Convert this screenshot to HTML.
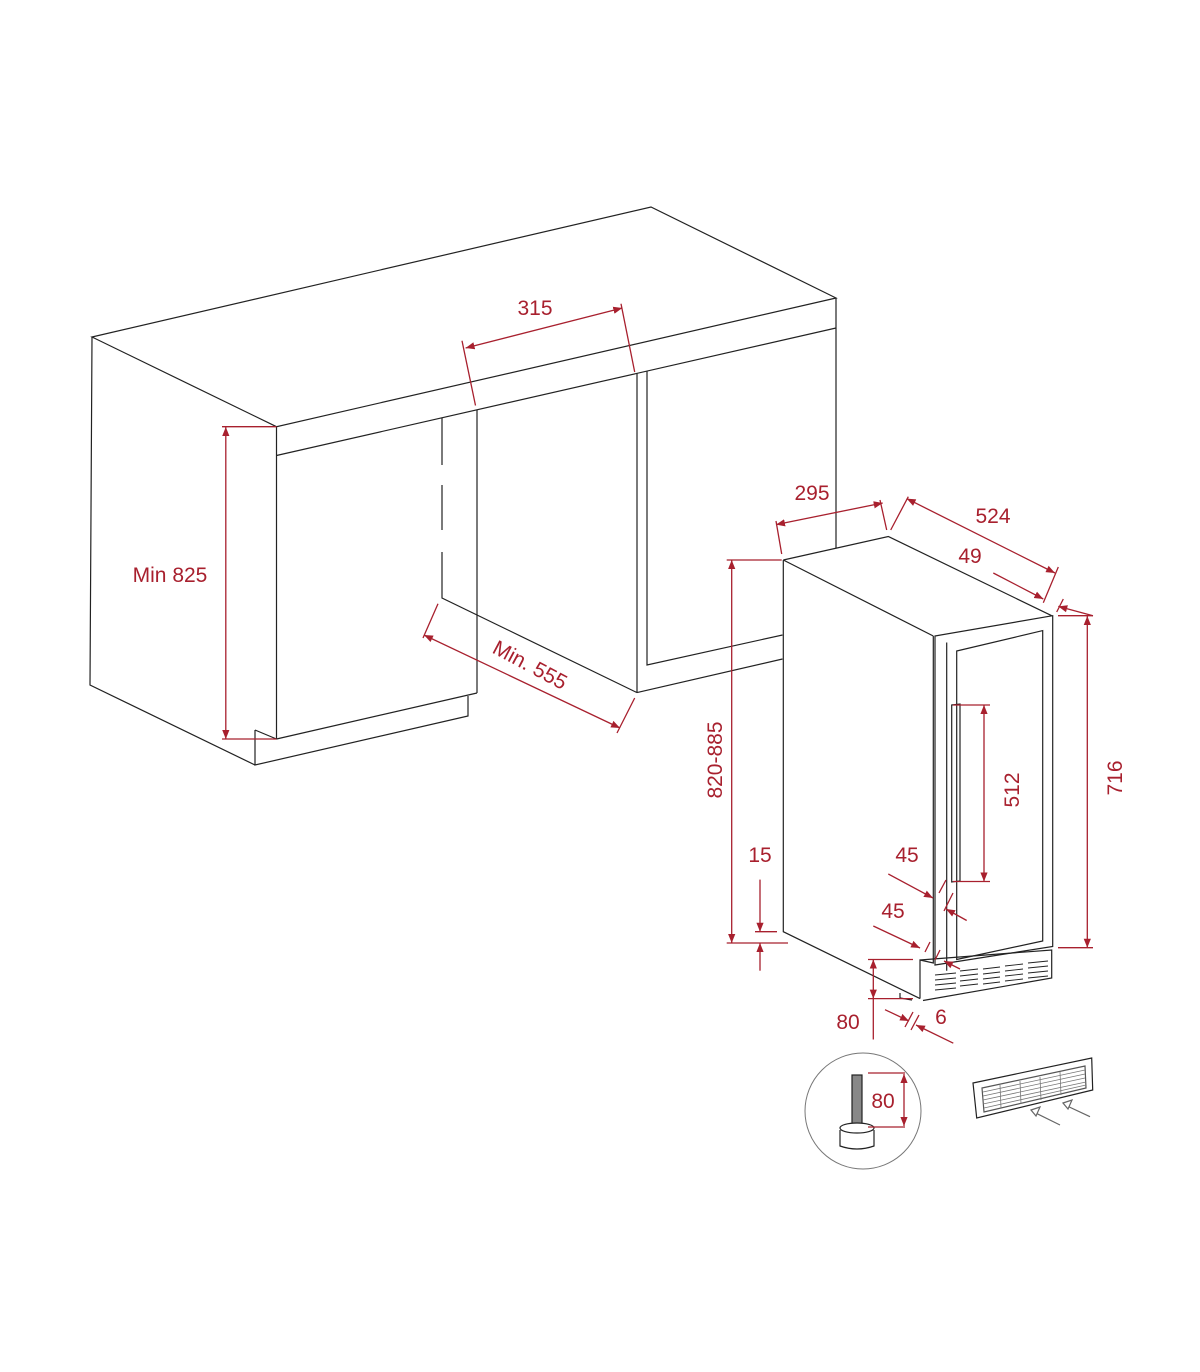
<!DOCTYPE html>
<html><head><meta charset="utf-8"><style>
html,body{margin:0;padding:0;background:#fff}
svg{display:block}
.k{stroke:#222;stroke-width:1.2;fill:none}
.r{stroke:#a8202e;stroke-width:1.3;fill:none}
.t{fill:#a8202e;font-family:"Liberation Sans",sans-serif;font-size:21px}
</style></head><body>
<svg width="1200" height="1372" viewBox="0 0 1200 1372" xmlns="http://www.w3.org/2000/svg">
<defs>
<marker id="a" viewBox="0 0 10 10" refX="10" refY="5" markerWidth="9" markerHeight="9" orient="auto-start-reverse" markerUnits="userSpaceOnUse"><path d="M0,1 L10,5 L0,9 z" fill="#a8202e"/></marker>
</defs>
<!-- cabinet -->
<g class="k">
<path d="M92,337 L651,207 L836,298 L276.5,426.7 Z"/>
<path d="M276.5,455.5 L836,328"/>
<path d="M836,298 L836,548"/>
<path d="M92,337 L90,685 L255,765"/>
<path d="M276.5,426.7 L276.5,739"/>
<path d="M276.5,739 L477,693"/>
<path d="M255,730 L276.5,739 M255,730 L255,765 L468,716 L468,696"/>
<path d="M442,418 L442,465 M442,485 L442,530 M442,552 L442,598 L637,692.6"/>
<path d="M477,409.7 L477,693"/>
<path d="M637,373 L637,692.6 M647,371 L647,665 L782.5,635 M637,692.6 L782.5,659"/>
</g>
<!-- cabinet dims -->
<g class="r">
<path d="M475.5,405.5 L462,340.7 M634.7,372 L621,303.7"/>
<path d="M465.6,348 L622.3,308" marker-start="url(#a)" marker-end="url(#a)"/>
<path d="M222,426.7 L276.5,426.7 M222,739 L276.5,739"/>
<path d="M225.8,427 L225.8,739" marker-start="url(#a)" marker-end="url(#a)"/>
<path d="M438,603.7 L423,638 M634.7,698 L617,733"/>
<path d="M424,635 L620,728" marker-start="url(#a)" marker-end="url(#a)"/>
</g>
<text class="t" x="535" y="315" text-anchor="middle">315</text>
<text class="t" x="170" y="582" text-anchor="middle">Min 825</text>
<text class="t" x="530" y="672" text-anchor="middle" transform="rotate(28 530 665)">Min. 555</text>
<!-- appliance -->
<g class="k">
<path d="M783.3,560 L888.3,536.5 L1051.7,615.7 M783.3,560 L933.3,636"/>
<path d="M783.3,560 L783.3,931.7 L920,998.6"/>
<path d="M933.3,636 L933.3,963 L920,960 L920,998.6"/>
<path d="M935,636 L1052.7,615.7 L1052.7,946.5 L935,965 Z"/>
<path d="M946.7,642.5 L946.7,970.7"/>
<path d="M956.7,651 L1042.7,630.6 L1042.7,941 L956.7,959.5 Z"/>
<path d="M951.7,705 L960,704 L960,881 L951.7,882 Z"/>
<path d="M920,960 L1051.7,950 L1051.7,978 L923,1000.5"/>
<path d="M900,993 L900,998 L912,1000"/>
<g stroke-width="0.9">
<path d="M935,975 L956,973 M935,980 L956,978 M935,985 L956,983 M935,990 L956,988"/>
<path d="M960,971 L978,969 M960,976 L978,974 M960,981 L978,979 M960,986 L978,984"/>
<path d="M983,969 L1000,967 M983,974 L1000,972 M983,979 L1000,977 M983,984 L1000,982"/>
<path d="M1005,966 L1023,964 M1005,971 L1023,969 M1005,976 L1023,974 M1005,981 L1023,979"/>
<path d="M1028,963 L1048,961 M1028,968 L1048,966 M1028,973 L1048,971 M1028,978 L1048,976"/>
</g>
</g>
<!-- appliance dims -->
<g class="r">
<path d="M776,521 L781.7,554 M880,500 L886.7,530"/>
<path d="M776,524.6 L882.7,503" marker-start="url(#a)" marker-end="url(#a)"/>
<path d="M890.7,530 L908.3,496.7 M1058.3,567 L1043.3,602.7"/>
<path d="M906.7,498.6 L1055,573" marker-start="url(#a)" marker-end="url(#a)"/>
<path d="M993.3,573 L1043.3,599" marker-end="url(#a)"/>
<path d="M1063.3,599 L1056.7,612"/>
<path d="M1093,615.7 L1058.3,606.4" marker-end="url(#a)"/>
<path d="M1058,615.7 L1093,615.7 M1058,947.7 L1093,947.7"/>
<path d="M1087.3,616 L1087.3,947.7" marker-start="url(#a)" marker-end="url(#a)"/>
<path d="M953,705 L990,705 M953,881.5 L990,881.5"/>
<path d="M984,705 L984,881.5" marker-start="url(#a)" marker-end="url(#a)"/>
<path d="M726.7,560 L781.7,560 M726.7,943 L788,943"/>
<path d="M731.7,560 L731.7,943" marker-start="url(#a)" marker-end="url(#a)"/>
<path d="M755,931.7 L777,931.7"/>
<path d="M760,879.6 L760,931.7" marker-end="url(#a)"/>
<path d="M760,970.7 L760,943" marker-end="url(#a)"/>
<path d="M888.3,874 L933,898" marker-end="url(#a)"/>
<path d="M966.7,920.5 L946,909" marker-end="url(#a)"/>
<path d="M939,893 L946,880 M944,911 L953,893"/>
<path d="M873.3,926 L920,948" marker-end="url(#a)"/>
<path d="M960,969 L944,961" marker-end="url(#a)"/>
<path d="M925,952 L930,942 M935,960 L940,950"/>
<path d="M868,959.5 L913,959.5 M868,998.6 L913,998.6"/>
<path d="M873.3,959.5 L873.3,998.6" marker-start="url(#a)" marker-end="url(#a)"/>
<path d="M873.3,998.6 L873.3,1039.5"/>
<path d="M885,1009.7 L909,1021" marker-end="url(#a)"/>
<path d="M953.3,1043.2 L916,1025" marker-end="url(#a)"/>
<path d="M905,1027 L913,1012 M911,1030 L919,1015"/>
</g>
<text class="t" x="812" y="500" text-anchor="middle">295</text>
<text class="t" x="993" y="523" text-anchor="middle">524</text>
<text class="t" x="970" y="563" text-anchor="middle">49</text>
<text class="t" x="1115" y="785" text-anchor="middle" transform="rotate(-90 1115 778)">716</text>
<text class="t" x="1012" y="797" text-anchor="middle" transform="rotate(-90 1012 790)">512</text>
<text class="t" x="715" y="767" text-anchor="middle" transform="rotate(-90 715 760)">820-885</text>
<text class="t" x="760" y="862" text-anchor="middle">15</text>
<text class="t" x="907" y="862" text-anchor="middle">45</text>
<text class="t" x="893" y="918" text-anchor="middle">45</text>
<text class="t" x="848" y="1029" text-anchor="middle">80</text>
<text class="t" x="941" y="1024" text-anchor="middle">6</text>
<!-- foot detail -->
<circle cx="863" cy="1111" r="58" fill="none" stroke="#777" stroke-width="1"/>
<g class="k" stroke-width="1">
<rect x="852" y="1075" width="10" height="50" fill="#888"/>
<path d="M840,1130 L840,1146 Q857,1152 874,1146 L874,1130"/>
<ellipse cx="857" cy="1128" rx="17" ry="5" fill="#fff"/>
</g>
<g class="r">
<path d="M868,1073 L905,1073 M868,1127 L905,1127"/>
<path d="M904,1074 L904,1126" marker-start="url(#a)" marker-end="url(#a)"/>
</g>
<text class="t" x="883" y="1108" text-anchor="middle">80</text>
<!-- grille -->
<g class="k" stroke-width="1">
<path d="M973,1083 L1091.7,1058 L1092.7,1090 L976.7,1118 Z"/>
<path d="M982,1088 L1085,1066 L1086,1088 L984,1112 Z" stroke="#555"/>
<path d="M983,1092 L1085,1070 M983,1096 L1085,1074 M983,1100 L1085,1078 M983,1104 L1086,1082 M984,1108 L1086,1085" stroke="#777" stroke-width="0.8"/>
<path d="M1000,1085 L1001,1108 M1020,1081 L1021,1104 M1040,1077 L1041,1100 M1060,1072 L1061,1095" stroke="#777" stroke-width="0.8"/>
<path d="M1033,1111.7 L1060,1125 M1065,1105 L1090,1116.7" stroke="#666"/>
<path d="M1031,1110 L1040,1107 L1036,1116 Z M1063,1103 L1072,1100 L1068,1109 Z" fill="#fff" stroke="#666"/>
</g>
</svg>
</body></html>
